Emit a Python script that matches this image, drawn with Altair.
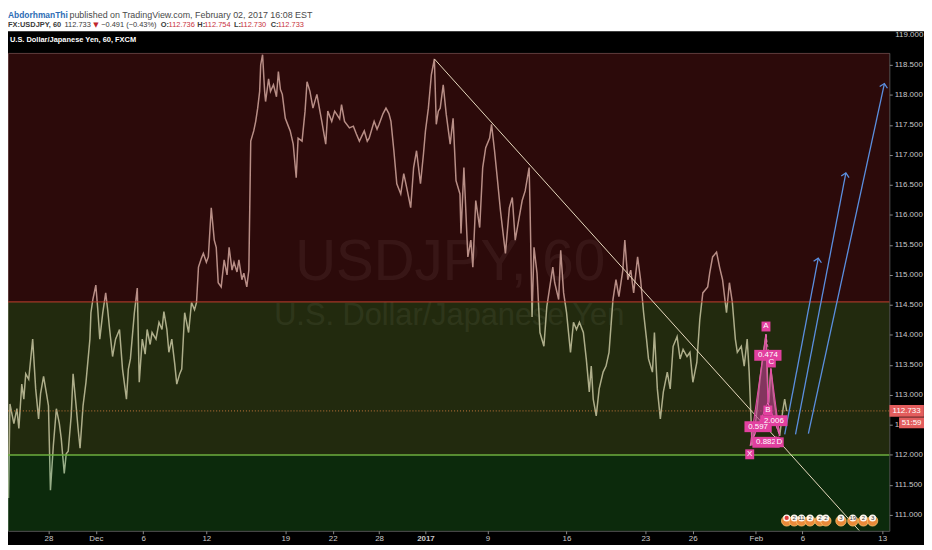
import math
import altair as alt
import pandas as pd

# ---------------- data (trading-day index, price) ----------------
days = [-2.53, -2.44, -2.19, -2.0, -1.875, -1.69, -1.56, -1.44, -1.25, -1.0,
        -0.81, -0.625, -0.5, -0.31, -0.125, 0.0, 0.125, 0.31, 0.5, 0.69,
        0.81, 1.0, 1.125, 1.25, 1.44, 1.56, 1.75, 1.875, 2.0, 2.19,
        2.375, 2.625, 2.69, 2.81, 3.0, 3.125, 3.25, 3.44, 3.625, 3.75,
        3.875, 4.06, 4.25, 4.5, 4.69, 4.94, 5.06, 5.19, 5.44, 5.625,
        5.75, 5.94, 6.125, 6.25, 6.44, 6.56, 6.81, 7.0, 7.19, 7.31,
        7.5, 7.625, 7.81, 8.0, 8.125, 8.31, 8.44, 8.625, 8.875, 9.06,
        9.25, 9.375, 9.5, 9.69, 9.81, 10.0, 10.125, 10.31, 10.5, 10.625,
        10.75, 10.94, 11.125, 11.31, 11.44, 11.625, 11.75, 11.94, 12.06, 12.25,
        12.375, 12.56, 12.69, 12.81, 13.0, 13.125, 13.25, 13.375, 13.44, 13.56,
        13.69, 13.75, 13.94, 14.06, 14.25, 14.44, 14.56, 14.69, 14.81, 15.0,
        15.19, 15.31, 15.5, 15.69, 15.81, 16.06, 16.25, 16.375, 16.56, 16.75,
        17.0, 17.19, 17.31, 17.56, 17.69, 17.94, 18.125, 18.25, 18.44, 18.56,
        18.75, 19.06, 19.31, 19.5, 19.69, 20.0, 20.19, 20.31, 20.625, 20.81,
        20.94, 21.19, 21.375, 21.56, 21.69, 21.875, 22.06, 22.31, 22.5, 22.69,
        22.94, 23.125, 23.31, 23.56, 23.75, 23.875, 24.06, 24.25, 24.44, 24.56,
        24.69, 24.81, 25.0, 25.19, 25.44, 25.625, 25.81, 26.06, 26.125, 26.31,
        26.44, 26.56, 26.75, 26.875, 27.06, 27.31, 27.5, 27.69, 27.94, 28.06,
        28.25, 28.44, 28.625, 28.94, 29.19, 29.375, 29.56, 29.81, 30.0, 30.19,
        30.44, 30.5, 30.625, 30.75, 30.94, 31.125, 31.375, 31.56, 31.75, 31.94,
        32.06, 32.31, 32.44, 32.625, 32.81, 33.06, 33.25, 33.44, 33.625, 33.875,
        34.06, 34.25, 34.375, 34.5, 34.69, 34.875, 35.125, 35.31, 35.5, 35.75,
        35.94, 36.125, 36.375, 36.5, 36.69, 36.875, 37.06, 37.31, 37.5, 37.69,
        37.875, 38.0, 38.25, 38.375, 38.56, 38.75, 38.94, 39.19, 39.375, 39.56,
        39.81, 40.0, 40.19, 40.44, 40.625, 40.81, 41.06, 41.25, 41.44, 41.75,
        41.875, 42.06, 42.31, 42.5, 42.69, 42.94, 43.125, 43.31, 43.5, 43.625,
        43.875, 44.06, 44.25, 44.375, 44.5, 44.56, 44.81, 45.06, 45.31, 45.44,
        45.56, 45.625, 45.75, 45.94, 46.125, 46.31, 46.5, 46.625, 46.75]
prices = [111.28, 112.85, 112.52, 112.77, 112.44, 113.18, 112.93, 113.35, 113.26, 113.93,
          113.10, 112.60, 113.02, 113.31, 113.02, 112.82, 111.41, 112.16, 112.77, 112.52,
          112.27, 111.69, 112.02, 112.06, 112.65, 113.35, 112.82, 112.44, 112.11, 112.82,
          113.21, 113.93, 114.37, 114.59, 114.83, 114.42, 113.93, 114.37, 114.70, 114.42,
          114.09, 113.64, 113.93, 114.09, 113.43, 112.93, 113.43, 113.60, 114.37, 114.78,
          113.21, 113.93, 113.68, 114.09, 113.84, 114.04, 113.93, 114.21, 114.09, 114.39,
          114.09, 113.71, 113.93, 113.51, 113.18, 113.35, 113.43, 114.37, 114.04, 114.54,
          114.42, 114.54, 115.13, 115.28, 115.36, 115.21, 115.30, 116.12, 115.58, 115.46,
          114.87, 114.80, 115.25, 115.00, 115.46, 115.08, 115.21, 115.05, 115.25, 114.92,
          115.03, 114.80, 115.08, 117.23, 117.40, 117.56, 117.78, 118.06, 118.50, 118.67,
          118.06, 117.89, 118.27, 118.06, 118.17, 117.97, 118.39, 118.09, 118.01, 117.61,
          117.48, 117.40, 117.18, 116.62, 117.28, 117.23, 117.73, 118.22, 118.06, 117.78,
          118.01, 117.73, 117.56, 117.18, 117.73, 117.56, 117.73, 117.68, 117.60, 117.84,
          117.56, 117.45, 117.48, 117.35, 117.23, 117.40, 117.23, 117.28, 117.56, 117.43,
          117.51, 117.69, 117.78, 117.69, 117.56, 117.07, 116.52, 116.35, 116.69, 116.45,
          116.12, 116.79, 117.07, 116.52, 117.02, 117.40, 117.78, 118.34, 118.60, 117.51,
          117.73, 117.78, 118.17, 117.68, 117.18, 117.61, 116.57, 116.35, 115.69, 116.79,
          116.02, 115.30, 115.58, 115.13, 116.24, 115.79, 116.79, 117.12, 117.28, 117.51,
          117.07, 116.57, 116.07, 115.36, 116.12, 116.29, 115.58, 115.96, 116.24, 116.40,
          116.79, 116.12, 114.30, 115.46, 115.03, 114.04, 113.81, 114.47, 114.80, 115.13,
          114.87, 114.59, 115.41, 114.70, 114.37, 113.71, 114.21, 114.09, 114.21, 114.04,
          113.60, 113.05, 113.48, 112.93, 112.65, 113.10, 113.38, 113.48, 113.71, 114.59,
          114.92, 114.64, 115.08, 115.58, 114.92, 115.08, 114.70, 115.30, 114.92, 114.37,
          113.93, 113.60, 113.38, 114.04, 113.10, 112.60, 113.05, 113.38, 113.10, 113.81,
          113.97, 113.60, 113.76, 113.64, 113.71, 113.21, 113.54, 114.26, 114.70, 114.80,
          115.03, 115.30, 115.38, 115.13, 114.92, 114.37, 114.87, 114.54, 113.93, 113.71,
          113.81, 113.48, 113.93, 113.38, 112.55, 112.16, 112.60, 113.26, 113.76, 114.01,
          113.10, 112.87, 113.43, 112.93, 112.60, 112.32, 112.73, 112.93, 112.73]

tick_days = [0, 3, 6, 10, 15, 18, 20.94, 23.875, 27.8, 32.8, 37.8, 40.8, 44.8, 47.75, 52.8]
tick_labels = ["28", "Dec", "6", "12", "19", "22", "28", "2017", "9", "16", "23", "26", "Feb", "6", "13"]
price_ticks = [111.0, 111.5, 112.0, 112.5, 113.0, 113.5, 114.0, 114.5,
               115.0, 115.5, 116.0, 116.5, 117.0, 117.5, 118.0, 118.5]

zone_lo = [114.55, 112.0, 110.735]
zone_hi = [118.70, 114.55, 112.0]
zone_colors = ["#621616", "#4b5d20", "#1b5d1b"]

level_prices = [114.55, 112.0]
level_colors = ["#c2402e", "#6cae3e"]
level_widths = [1.0, 1.5]
last_price = 112.733

trend_days = [24.44, 51.34]
trend_prices = [118.60, 110.74]

pat_names = ["X", "A", "B", "C", "D"]
pat_days = [44.44, 45.44, 45.56, 45.75, 46.31]
pat_prices = [112.157, 114.008, 112.868, 113.446, 112.322]

ratio_text = ["0.474", "0.597", "0.882", "2.006"]
ratio_days = [45.56, 44.94, 45.44, 45.94]
ratio_prices = [113.66, 112.47, 112.21, 112.57]

letter_text = ["A", "X", "B", "C", "D"]
letter_days = [45.44, 44.41, 45.56, 45.78, 46.28]
letter_prices = [114.14, 112.01, 112.74, 113.54, 112.21]

arrow_d0 = [46.625, 47.31, 48.125]
arrow_p0 = [112.34, 112.34, 112.355]
arrow_d1 = [48.75, 50.5, 52.94]
arrow_p1 = [115.28, 116.70, 118.19]

event_days = [46.75, 47.23, 47.69, 48.23, 48.86, 49.23, 50.19, 50.94, 51.61, 52.19]
event_counts = ["", "2", "11", "2", "2", "2", "3", "19", "2", "3"]

# ---------------- scales & axes ----------------
X_DOM = [-2.5625, 53.25]
Y_DOM = [110.735, 118.70]
W, H = 889, 482
xs = alt.Scale(domain=X_DOM, nice=False, zero=False)
ys = alt.Scale(domain=Y_DOM, nice=False, zero=False)
FONT = "Liberation Sans"

label_expr = ("[" + ",".join("'%s'" % l for l in tick_labels) + "][indexof(["
              + ",".join(str(v) for v in tick_days) + "], datum.value)]")
x_axis = alt.Axis(values=tick_days, labelExpr=label_expr, orient="bottom", domain=False,
                  grid=False, tickColor="#8a8a8a", tickSize=3, labelColor="#c8c8c8",
                  labelFont=FONT, labelFontSize=8, labelPadding=1, title=None,
                  labelFlush=False, labelOverlap=False,
                  labelFontWeight={"condition": {"test": "datum.value == 23.875", "value": "bold"},
                                   "value": "normal"})
y_axis = alt.Axis(values=price_ticks, format=".3f", orient="right", domain=False, grid=False,
                  tickColor="#8a8a8a", tickSize=3, labelColor="#c8c8c8", labelFontSize=8,
                  labelFont=FONT, labelPadding=2, title=None, labelFlush=False)


def X(f):
    return alt.X(f, type="quantitative", scale=xs, axis=x_axis)


def Y(f):
    return alt.Y(f, type="quantitative", scale=ys, axis=y_axis)


layers = []

# header white strip
layers.append(alt.Chart(pd.DataFrame({"a": [0]})).mark_rect(color="white").encode(
    x=alt.value(-2), x2=alt.value(W + 40), y=alt.value(-48), y2=alt.value(-22)))

# watermark
wm = pd.DataFrame({"t": ["USDJPY, 60", "U.S. Dollar/Japanese Yen"], "d": [25.44, 25.38],
                   "p": [114.92, 114.17], "s": [57, 31]})
layers.append(alt.Chart(wm).mark_text(color="white", opacity=0.09, font=FONT, baseline="alphabetic",
                                      align="center").encode(
    x=X("d"), y=Y("p"), text="t:N", size=alt.Size("s:Q", scale=None)))

# price path
price_df = pd.DataFrame({"day": days, "price": prices, "i": list(range(len(days)))})
layers.append(alt.Chart(price_df).mark_line(color="#fff0e2", strokeWidth=1.5, clip=True).encode(
    x=X("day"), y=Y("price"), order="i:Q"))

# zones overlay (semi-transparent, tints the price path)
zone_df = pd.DataFrame({"lo": zone_lo, "hi": zone_hi, "c": zone_colors,
                        "x0": [X_DOM[0]] * 3, "x1": [X_DOM[1]] * 3})
layers.append(alt.Chart(zone_df).mark_rect(opacity=0.45).encode(
    x=X("x0"), x2="x1", y=Y("lo"), y2="hi", color=alt.Color("c:N", scale=None)))

# level lines
lvl_df = pd.DataFrame({"p": level_prices, "c": level_colors, "w": level_widths})
layers.append(alt.Chart(lvl_df).mark_rule().encode(
    y=Y("p"), color=alt.Color("c:N", scale=None), strokeWidth=alt.StrokeWidth("w:Q", scale=None)))

# last price dotted line
layers.append(alt.Chart(pd.DataFrame({"p": [last_price]})).mark_rule(
    color="#c8783c", strokeDash=[1, 2], strokeWidth=1).encode(y=Y("p")))

# trend line
tr_df = pd.DataFrame({"d": trend_days, "p": trend_prices})
layers.append(alt.Chart(tr_df).mark_line(color="#eadcc0", strokeWidth=1).encode(x=X("d"), y=Y("p")))

# harmonic pattern
pt = dict(zip(pat_names, zip(pat_days, pat_prices)))
tri_rows = []
for k, tri in enumerate([["X", "A", "B"], ["B", "C", "D"]]):
    for j, n in enumerate(tri):
        tri_rows.append({"tri": k, "o": j, "d": pt[n][0], "p": pt[n][1]})
tri_df = pd.DataFrame(tri_rows)
layers.append(alt.Chart(tri_df).mark_line(fill="#c53d95", fillOpacity=0.6, stroke="#e84aa8",
                                          strokeWidth=1, interpolate="linear-closed").encode(
    x=X("d"), y=Y("p"), detail="tri:N", order="o:Q"))
dash_rows = []
for k, (a, b) in enumerate([("X", "B"), ("A", "C"), ("B", "D"), ("X", "D")]):
    for j, n in enumerate((a, b)):
        dash_rows.append({"s": k, "o": j, "d": pt[n][0], "p": pt[n][1]})
layers.append(alt.Chart(pd.DataFrame(dash_rows)).mark_line(
    color="#f070c0", strokeWidth=0.8, strokeDash=[3, 2]).encode(
    x=X("d"), y=Y("p"), detail="s:N", order="o:Q"))

# blue arrows
ppd = W / (X_DOM[1] - X_DOM[0])
ppp = H / (Y_DOM[1] - Y_DOM[0])
arr_rows, head_rows = [], []
for k in range(3):
    arr_rows.append({"s": k, "o": 0, "d": arrow_d0[k], "p": arrow_p0[k]})
    arr_rows.append({"s": k, "o": 1, "d": arrow_d1[k], "p": arrow_p1[k]})
    ang = math.degrees(math.atan2((arrow_d1[k] - arrow_d0[k]) * ppd, (arrow_p1[k] - arrow_p0[k]) * ppp))
    head_rows.append({"d": arrow_d1[k], "p": arrow_p1[k], "a": ang})
BLUE = "#5b8fe0"
layers.append(alt.Chart(pd.DataFrame(arr_rows)).mark_line(color=BLUE, strokeWidth=1.3).encode(
    x=X("d"), y=Y("p"), detail="s:N", order="o:Q"))
layers.append(alt.Chart(pd.DataFrame(head_rows)).mark_point(
    shape="M-1,1L0,0L1,1", filled=False, size=64, color=BLUE, strokeWidth=1.3, opacity=1).encode(
    x=X("d"), y=Y("p"), angle=alt.Angle("a:Q", scale=None)))

# pattern labels
PINK = "#e2409f"
rat_df = pd.DataFrame({"t": ratio_text, "d": ratio_days, "p": ratio_prices})
layers.append(alt.Chart(rat_df).mark_point(shape="M-2.5,-1H2.5V1H-2.5Z", filled=True, size=121,
                                           color=PINK, opacity=1).encode(x=X("d"), y=Y("p")))
layers.append(alt.Chart(rat_df).mark_text(color="white", fontSize=8, font=FONT).encode(
    x=X("d"), y=Y("p"), text="t:N"))
let_df = pd.DataFrame({"t": letter_text, "d": letter_days, "p": letter_prices})
layers.append(alt.Chart(let_df).mark_point(shape="M-0.9,-1H0.9V1H-0.9Z", filled=True, size=100,
                                           color=PINK, opacity=1).encode(x=X("d"), y=Y("p")))
layers.append(alt.Chart(let_df).mark_text(color="white", fontSize=8, font=FONT).encode(
    x=X("d"), y=Y("p"), text="t:N"))

# event badges
ev_df = pd.DataFrame({"d": event_days, "t": event_counts})
layers.append(alt.Chart(ev_df).mark_point(shape="circle", filled=True, size=110, color="#e98a3a",
                                          opacity=1, stroke="#f7c46a", strokeWidth=0.8, yOffset=1).encode(
    x=X("d"), y=alt.value(471)))
layers.append(alt.Chart(ev_df).mark_point(shape="circle", filled=True, size=50, color="#fbf5ee",
                                          opacity=1, yOffset=-2).encode(x=X("d"), y=alt.value(471)))
layers.append(alt.Chart(pd.DataFrame({"d": event_days[:1]})).mark_point(
    shape="circle", filled=True, size=18, color="#e23a3a", opacity=1, yOffset=-2).encode(
    x=X("d"), y=alt.value(471)))
layers.append(alt.Chart(ev_df).mark_text(color="#333333", fontSize=6, font=FONT, dy=-2).encode(
    x=X("d"), y=alt.value(471), text="t:N"))

# last price badge on axis
lp = pd.DataFrame({"p": [last_price]})
layers.append(alt.Chart(lp).mark_point(shape="M-2.9,-1H2.9V1H-2.9Z", filled=True, size=144,
                                       color="#e35d5d", opacity=1).encode(x=alt.value(W + 17.5), y=Y("p")))
layers.append(alt.Chart(lp).mark_text(text="112.733", color="white", fontSize=8, font=FONT).encode(
    x=alt.value(W + 17.5), y=Y("p")))
layers.append(alt.Chart(lp).mark_point(shape="M-2.3,-1H2.3V1H-2.3Z", filled=True, size=121,
                                       color="#e35d5d", opacity=1, yOffset=12).encode(
    x=alt.value(W + 22.5), y=Y("p")))
layers.append(alt.Chart(lp).mark_text(text="51:59", color="white", fontSize=8, font=FONT, dy=12).encode(
    x=alt.value(W + 22.5), y=Y("p")))


# header / titles
def txt(t, x, y, color, size, bold=False, font=FONT, align="left"):
    return alt.Chart(pd.DataFrame({"a": [0]})).mark_text(
        text=t, color=color, fontSize=size, font=font, fontWeight="bold" if bold else "normal",
        align=align, baseline="middle").encode(x=alt.value(x), y=alt.value(y))


DARK = "#3a3a3a"
RED = "#c8323c"
layers += [
    txt("AbdorhmanThi", 0, -38.5, "#2d6db5", 8.5, True),
    txt("published on TradingView.com, February 02, 2017 16:08 EST", 62, -38.5, "#4a4a4a", 9),
    txt("FX:USDJPY, 60", 0, -28.5, DARK, 7.5, True),
    txt("112.733", 57, -28.5, DARK, 7.5),
    txt("\u25bc", 86, -28.5, "#c0262c", 7, font="DejaVu Sans"),
    txt("\u22120.491 (\u22120.43%)", 94, -28.5, DARK, 7.5),
    txt("O:", 154, -28.5, DARK, 7.5, True),
    txt("112.736", 162, -28.5, RED, 7.5),
    txt("H:", 191, -28.5, DARK, 7.5, True),
    txt("112.754", 198, -28.5, RED, 7.5),
    txt("L:", 228, -28.5, DARK, 7.5, True),
    txt("112.730", 234, -28.5, RED, 7.5),
    txt("C:", 265, -28.5, DARK, 7.5, True),
    txt("112.733", 272, -28.5, RED, 7.5),
    txt("U.S. Dollar/Japanese Yen, 60, FXCM", 2, -13, "white", 7.5, True),
    txt("119.000", W + 6, -18, "#c8c8c8", 8),
]

chart = alt.layer(*layers).properties(
    width=W, height=H, background="black",
    padding={"left": 0, "top": 43, "right": 35, "bottom": 12},
    autosize=alt.AutoSizeParams(type="none"),
).configure_view(stroke="#5a5a5a", strokeWidth=1)

chart.save("out.html", embed_options={"renderer": "svg", "actions": False})
